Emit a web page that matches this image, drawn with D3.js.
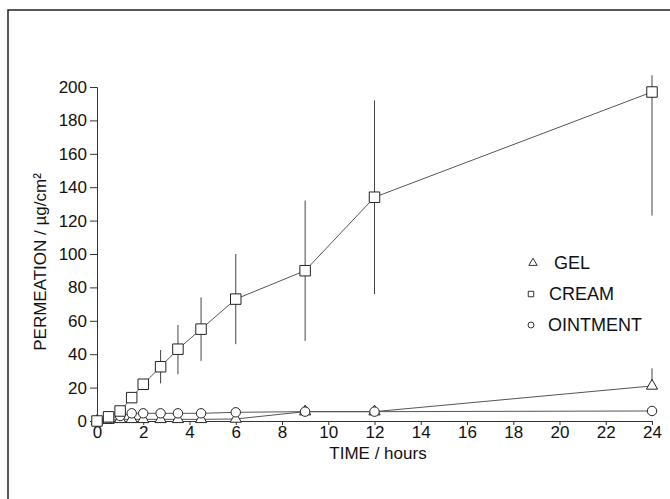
<!DOCTYPE html>
<html lang="en">
<head>
  <meta charset="UTF-8">
  <title>Permeation</title>
  <style>
    body { margin: 0; background: #fff; }
    svg { display: block; }
    text { font-family: "Liberation Sans", Arial, sans-serif; fill: #111; }
    .tick text { font-size: 17px; }
    .legend text { font-size: 18px; }
  </style>
</head>
<body>
<svg width="670" height="499"></svg>
<script src="https://cdnjs.cloudflare.com/ajax/libs/d3/7.8.5/d3.min.js"></script>
<script>
  // sampling times (hours)
  const times = [0, 0.5, 1, 1.5, 2, 2.75, 3.5, 4.5, 6, 9, 12, 24];

  const creamMean = [0, 2.5, 6, 14, 22, 32.5, 43, 55, 73, 90, 134, 197];
  const creamLow  = [0, 2.5, 6, 14, 20, 22.5, 28, 36, 46, 48, 76, 123];
  const creamHigh = [0, 2.5, 6, 14, 24, 42.5, 57.5, 74, 100, 132, 192, 207];

  const gelMean = [0, 0.5, 1, 1, 1, 1, 1, 1, 1.2, 5.6, 5.6, 21];
  const gelLow  = [0, 0.5, 1, 1, 1, 1, 1, 1, 1.2, 5.6, 5.6, 21];
  const gelHigh = [0, 0.5, 1, 1, 1, 1, 1, 1, 1.2, 5.6, 5.6, 31.5];

  const ointMean = [0, 1.5, 3, 4.6, 4.6, 4.6, 4.6, 4.6, 5.2, 5.6, 5.6, 6];

  const xTicks = d3.range(0, 25, 2);
  const yTicks = d3.range(0, 201, 20);

  const legendNames = ["GEL", "CREAM", "OINTMENT"];

  const svg = d3.select("svg");

  // scanned page frame
  svg.append("path")
    .attr("d", "M8,499V10H670")
    .attr("fill", "none")
    .attr("stroke", "#222")
    .attr("stroke-width", 1.5);

  const x = d3.scaleLinear().domain([0, 24]).range([97, 652]);
  const y = d3.scaleLinear().domain([0, 200]).range([421, 87]);

  const xAxis = svg.append("g")
    .attr("transform", "translate(0," + y(0) + ")")
    .call(d3.axisBottom(x).tickValues(xTicks).tickSize(4).tickPadding(1).tickFormat(d3.format("d")));

  const yAxis = svg.append("g")
    .attr("transform", "translate(" + x(0) + ",0)")
    .call(d3.axisLeft(y).tickValues(yTicks).tickSize(7).tickPadding(3).tickFormat(d3.format("d")));

  [xAxis, yAxis].forEach(function (a) {
    a.select(".domain").attr("stroke", "#333").attr("stroke-width", 1);
    a.selectAll(".tick line").attr("stroke", "#333");
    a.selectAll(".tick text").attr("fill", "#111");
  });

  // axis titles
  svg.append("text")
    .attr("x", 378)
    .attr("y", 459)
    .attr("text-anchor", "middle")
    .style("font-size", "17px")
    .text("TIME / hours");

  svg.append("text")
    .attr("transform", "translate(46,262) rotate(-90)")
    .attr("text-anchor", "middle")
    .style("font-size", "17px")
    .text("PERMEATION / \u00b5g/cm\u00b2");

  function series(mean, low, high) {
    return times.map(function (t, i) {
      return {t: t, v: mean[i], lo: low ? low[i] : mean[i], hi: high ? high[i] : mean[i]};
    });
  }

  const gel = series(gelMean, gelLow, gelHigh);
  const cream = series(creamMean, creamLow, creamHigh);
  const oint = series(ointMean);

  const line = d3.line()
    .x(function (d) { return x(d.t); })
    .y(function (d) { return y(d.v); });

  [oint, gel, cream].forEach(function (s) {
    svg.append("path")
      .datum(s)
      .attr("d", line)
      .attr("fill", "none")
      .attr("stroke", "#555")
      .attr("stroke-width", 1);
  });

  // error bars
  [gel, cream].forEach(function (s) {
    svg.append("g").selectAll("line")
      .data(s.filter(function (d) { return d.hi > d.lo; }))
      .join("line")
      .attr("x1", function (d) { return x(d.t); })
      .attr("x2", function (d) { return x(d.t); })
      .attr("y1", function (d) { return y(d.lo); })
      .attr("y2", function (d) { return y(d.hi); })
      .attr("stroke", "#444")
      .attr("stroke-width", 1);
  });

  const triangle = d3.symbol().type(d3.symbolTriangle);
  const square = d3.symbol().type(d3.symbolSquare);
  const circle = d3.symbol().type(d3.symbolCircle);

  function markers(s, sym, size) {
    svg.append("g").selectAll("path")
      .data(s)
      .join("path")
      .attr("transform", function (d) { return "translate(" + x(d.t) + "," + y(d.v) + ")"; })
      .attr("d", sym.size(size))
      .attr("fill", "#fff")
      .attr("stroke", "#222")
      .attr("stroke-width", 1);
  }

  markers(gel, triangle, 55);
  markers(oint, circle, 70);
  markers(cream, square, 110);

  // legend
  const legend = svg.append("g").attr("class", "legend");
  const legendSyms = [triangle.size(30), square.size(30), circle.size(28)];
  const legendY = [263, 294, 325];
  const legendX = [554, 549, 548];

  legendNames.forEach(function (name, i) {
    legend.append("path")
      .attr("transform", "translate(" + (531 + (i === 0 ? 2 : 0)) + "," + legendY[i] + ")")
      .attr("d", legendSyms[i])
      .attr("fill", "#fff")
      .attr("stroke", "#333")
      .attr("stroke-width", 1);
    legend.append("text")
      .attr("x", legendX[i])
      .attr("y", legendY[i] + 6)
      .text(name);
  });
</script>
</body>
</html>
